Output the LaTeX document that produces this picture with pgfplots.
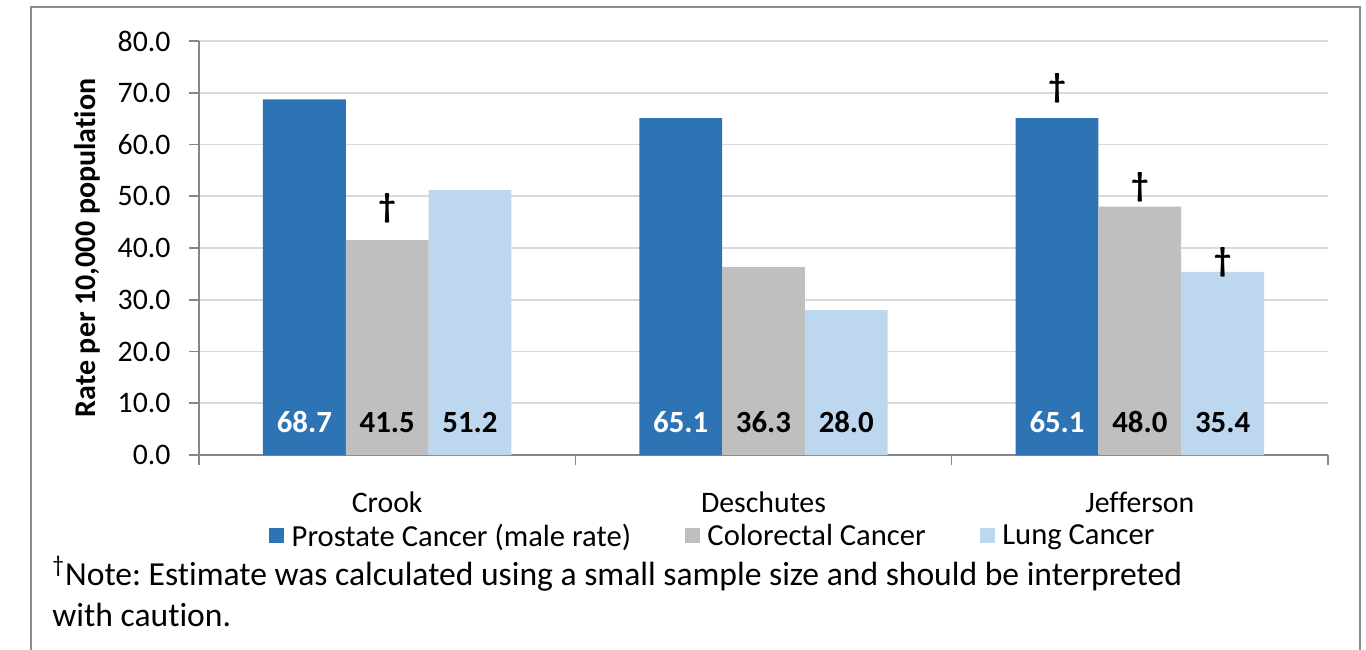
\documentclass[border=0pt]{standalone}
\usepackage{pgfplots}
\pgfplotsset{compat=1.18}
\usepackage{pgfplotstable}
\usepackage{fontspec}
\setmainfont{Carlito}[Ligatures=CommonOff]
\frenchspacing
\definecolor{cProst}{HTML}{2E74B5}
\definecolor{cColo}{HTML}{BFBFBF}
\definecolor{cLung}{HTML}{BDD7EE}
\definecolor{cGrid}{HTML}{D9D9D9}
\definecolor{cAxis}{HTML}{868686}
\definecolor{cFrame}{HTML}{8C8C8C}

\pgfplotstableread{
idx prost colo lung
0 68.7 41.5 51.2
1 65.1 36.3 28.0
2 65.1 48.0 35.4
}\rates
% dagger marks (x position, y of dagger centre)
\pgfplotstableread{
x y
0 47.7
1.78 70.9
2 51.8
2.22 37.3
}\daggers

\begin{document}
\begin{tikzpicture}[x=1pt,y=1pt]
\path[use as bounding box] (0,0) rectangle (683,324.5);
\draw[cFrame, line width=0.8pt] (15.5,-2) -- (15.5,321) -- (680,321) -- (680,-2);
\begin{axis}[
  at={(99.5pt,97pt)}, anchor=south west,
  scale only axis, width=564.5pt, height=207pt,
  xmin=-0.5, xmax=2.5, ymin=0, ymax=80,
  axis x line*=bottom, axis y line*=left,
  axis line style={cAxis, line width=0.8pt},
  /pgf/number format/assume math mode=true,
  tick align=outside, major tick length=5pt,
  tick style={cAxis, line width=0.8pt},
  ytick={0,10,...,80},
  yticklabel style={/pgf/number format/.cd, fixed, fixed zerofill, precision=1, /tikz/.cd, xshift=-5.7pt},
  ymajorgrids, grid style={cGrid, line width=0.8pt},
  xtick={-0.5,0.5,1.5,2.5}, xticklabels={},
  extra x ticks={0,1,2},
  extra x tick labels={Crook,Deschutes,Jefferson},
  extra x tick style={tick style={draw=none}},
  xticklabel style={anchor=base, yshift=-23.5pt},
  every tick label/.append style={font=\fontsize{14.9}{17}\selectfont, text=black},
  ylabel={Rate per 10,000 population},
  ylabel style={at={(axis description cs:-0.0992,0.5)}, anchor=center, font=\bfseries\fontsize{15}{18}\selectfont},
  legend columns=3,
  legend image code/.code={\fill[#1] (0pt,-3.1pt) rectangle (7.5pt,4.1pt);},
  legend style={at={(axis description cs:0.4543,-0.165)}, anchor=north, draw=none, fill=none, inner sep=0pt,
    font=\fontsize{15.3}{18}\selectfont, nodes={inner sep=0pt},
    /tikz/every odd column/.append style={column sep=3.75pt},
    /tikz/every even column/.append style={column sep=27pt}},
  legend cell align=left,
]
\addplot[ybar, bar width=0.22, bar shift=-0.22, fill=cProst, draw=none] table[x=idx,y=prost]{\rates};
\addlegendentry{Prostate Cancer (male rate)}
\addplot[ybar, bar width=0.22, bar shift=0, fill=cColo, draw=none] table[x=idx,y=colo]{\rates};
\addlegendentry{Colorectal Cancer}
\addplot[ybar, bar width=0.22, bar shift=0.22, fill=cLung, draw=none] table[x=idx,y=lung]{\rates};
\addlegendentry{Lung Cancer}

% value labels at the foot of each bar
\addplot[forget plot, draw=none, mark=none, point meta=\thisrow{prost}, nodes near coords,
  nodes near coords style={font=\bfseries\fontsize{15.4}{18}\selectfont, text=white, anchor=south, inner sep=0pt,
  /pgf/number format/.cd, fixed, fixed zerofill, precision=1}]
  table[x expr=\thisrow{idx}-0.22, y expr=4.25]{\rates};
\addplot[forget plot, draw=none, mark=none, point meta=\thisrow{colo}, nodes near coords,
  nodes near coords style={font=\bfseries\fontsize{15.4}{18}\selectfont, text=black, anchor=south, inner sep=0pt,
  /pgf/number format/.cd, fixed, fixed zerofill, precision=1}]
  table[x expr=\thisrow{idx}, y expr=4.25]{\rates};
\addplot[forget plot, draw=none, mark=none, point meta=\thisrow{lung}, nodes near coords,
  nodes near coords style={font=\bfseries\fontsize{15.4}{18}\selectfont, text=black, anchor=south, inner sep=0pt,
  /pgf/number format/.cd, fixed, fixed zerofill, precision=1}]
  table[x expr=\thisrow{idx}+0.22, y expr=4.25]{\rates};

% small-sample daggers
\addplot[forget plot, draw=none, mark=none, nodes near coords={\bfseries †},
  nodes near coords style={anchor=center, inner sep=0pt, font=\fontsize{17}{20}\selectfont}]
  table[x=x,y=y]{\daggers};
\end{axis}
\node[anchor=base west, inner sep=0pt, font=\fontsize{16.8}{20}\selectfont] at (26,32)
  {\textsuperscript{†}Note: Estimate was calculated using a small sample size and should be interpreted};
\node[anchor=base west, inner sep=0pt, font=\fontsize{16.8}{20}\selectfont] at (26,11.5)
  {with caution.};
\end{tikzpicture}
\end{document}
